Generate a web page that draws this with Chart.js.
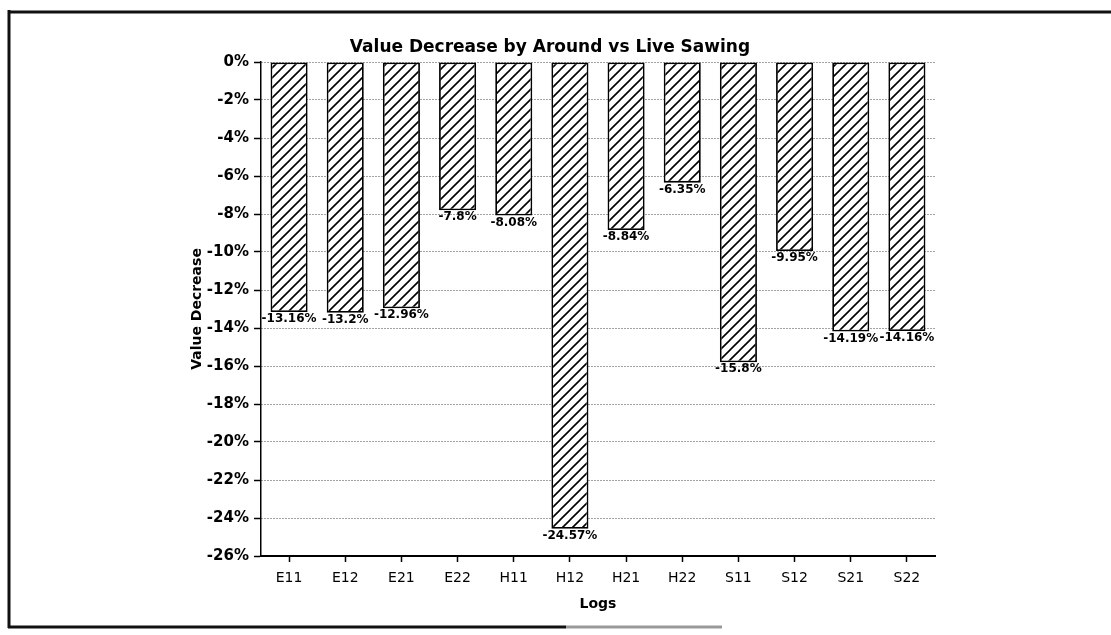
<!DOCTYPE html>
<html>
<head>
<meta charset="utf-8">
<script src="https://cdn.jsdelivr.net/npm/chart.js@4/dist/chart.umd.min.js"></script>
<style>
  html, body { margin: 0; padding: 0; background: #fff; }
  canvas { display: block; }
</style>
</head>
<body>
<canvas id="myChart" width="1111" height="635"></canvas>
<script>
// logs and the value lost by around sawing compared with live sawing (%)
const logs = ["E11", "E12", "E21", "E22", "H11", "H12", "H21", "H22", "S11", "S12", "S21", "S22"];
const valueDecrease = [-13.16, -13.2, -12.96, -7.8, -8.08, -24.57, -8.84, -6.35, -15.8, -9.95, -14.19, -14.16];
const yTicks = { min: -26, max: 0, step: 2 };

Chart.defaults.font.family = "'DejaVu Sans', sans-serif";
Chart.defaults.color = "#000";

// white fill with black "/" hatching
function hatchPattern() {
  const s = 10;
  const c = document.createElement("canvas");
  c.width = s;
  c.height = s;
  const g = c.getContext("2d");
  g.fillStyle = "#fff";
  g.fillRect(0, 0, s, s);
  g.strokeStyle = "#000";
  g.lineWidth = 1.6;
  g.beginPath();
  g.moveTo(0, s); g.lineTo(s, 0);
  g.moveTo(-1, 1); g.lineTo(1, -1);
  g.moveTo(s - 1, s + 1); g.lineTo(s + 1, s - 1);
  g.stroke();
  return g.createPattern(c, "repeat");
}

// box lines around the figure
const frame = {
  id: "frame",
  beforeDraw(chart) {
    const ctx = chart.ctx;
    ctx.save();
    ctx.lineWidth = 3;
    ctx.strokeStyle = "#111";
    ctx.beginPath();
    ctx.moveTo(8, 12); ctx.lineTo(1111, 12);
    ctx.moveTo(9, 10); ctx.lineTo(9, 628);
    ctx.moveTo(8, 627); ctx.lineTo(566, 627);
    ctx.stroke();
    ctx.strokeStyle = "#999";
    ctx.beginPath();
    ctx.moveTo(566, 627); ctx.lineTo(722, 627);
    ctx.stroke();
    ctx.restore();
  }
};

// value printed under the end of each bar
const barValues = {
  id: "barValues",
  afterDatasetsDraw(chart) {
    const ctx = chart.ctx;
    const meta = chart.getDatasetMeta(0);
    ctx.save();
    ctx.font = "bold 12px 'DejaVu Sans'";
    ctx.fillStyle = "#000";
    ctx.textAlign = "center";
    ctx.textBaseline = "top";
    meta.data.forEach((bar, i) => {
      ctx.fillText(valueDecrease[i] + "%", bar.x, bar.y + 1);
    });
    ctx.restore();
  }
};

const ctx = document.getElementById("myChart").getContext("2d");

new Chart(ctx, {
  type: "bar",
  data: {
    labels: logs,
    datasets: [
      {
        label: "Value Decrease",
        data: valueDecrease,
        backgroundColor: hatchPattern(),
        borderColor: "#000",
        borderWidth: 1.8,
        borderSkipped: false,
        barPercentage: 0.66,
        categoryPercentage: 1,
      },
    ],
  },
  options: {
    responsive: false,
    animation: false,
    layout: {
      padding: { left: 165, right: 176, top: 37, bottom: 22 },
    },
    plugins: {
      legend: { display: false },
      tooltip: { enabled: false },
      title: {
        display: true,
        text: "Value Decrease by Around vs Live Sawing",
        font: { size: 17, weight: "bold" },
        color: "#000",
        padding: { top: 0, bottom: 4.6 },
      },
    },
    scales: {
      x: {
        afterFit(scale) {
          scale.height = 57;
        },
        grid: {
          offset: false,
          drawOnChartArea: false,
          drawTicks: true,
          tickLength: 6,
          tickColor: "#000",
          tickWidth: 1.5,
        },
        border: { color: "#000", width: 2 },
        ticks: {
          font: { size: 14 },
          padding: 8,
          maxRotation: 0,
          autoSkip: false,
        },
        title: {
          display: true,
          text: "Logs",
          font: { size: 14, weight: "bold" },
          padding: { top: 0, bottom: 0 },
        },
      },
      y: {
        min: yTicks.min,
        max: yTicks.max,
        afterFit(scale) {
          scale.width = 96;
        },
        grid: {
          color: "#444",
          lineWidth: 1,
          drawTicks: true,
          tickLength: 7,
          tickColor: "#000",
          tickWidth: 1.5,
        },
        border: { color: "#000", width: 1.5, dash: [1, 2] },
        ticks: {
          stepSize: yTicks.step,
          font: { size: 15, weight: "bold" },
          padding: 5,
          callback(value) {
            return value + "%";
          },
        },
        title: {
          display: true,
          text: "Value Decrease",
          font: { size: 14, weight: "bold" },
          padding: { top: 24, bottom: 0 },
        },
      },
    },
  },
  plugins: [frame, barValues],
});
</script>
</body>
</html>
